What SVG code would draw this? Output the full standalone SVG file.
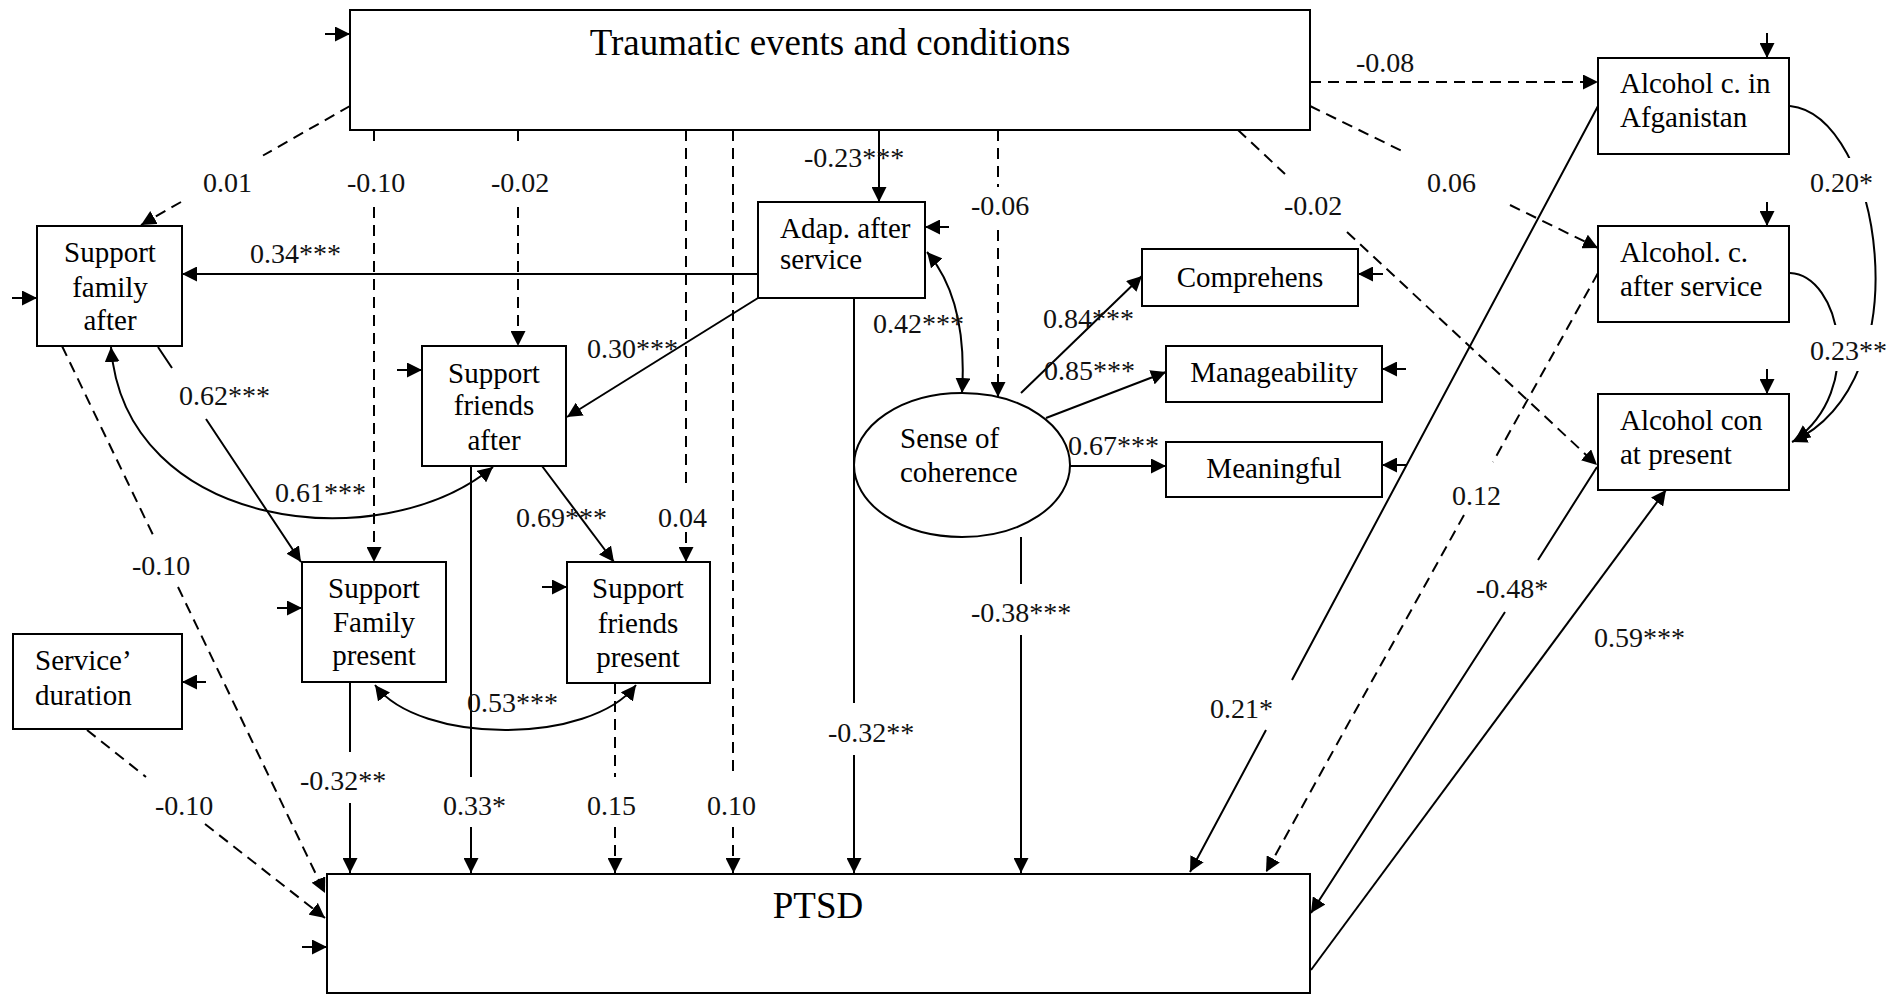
<svg xmlns="http://www.w3.org/2000/svg" width="1904" height="995" viewBox="0 0 1904 995">
<defs>
<style>
.box{fill:#fff;stroke:#000;stroke-width:2}
.c{fill:none;stroke:#000;stroke-width:2}
.d{stroke-dasharray:11 7}
.a{marker-end:url(#ah)}
.b{marker-start:url(#ah);marker-end:url(#ah)}
text{font-family:"Liberation Serif","Times New Roman",serif;fill:#000}
.n{font-size:29px}
.t{font-size:37px}
.l{font-size:28px;fill:#111}
.mid{text-anchor:middle}
</style>
<marker id="ah" markerUnits="userSpaceOnUse" markerWidth="15" markerHeight="15" refX="15" refY="7.5" orient="auto-start-reverse">
<path d="M0,0 L15,7.5 L0,15 z" fill="#000"/>
</marker>
</defs>
<rect width="1904" height="995" fill="#fff"/>

<g id="connectors">
<!-- from Traumatic -->
<path class="c d a" d="M350,106 L263,155.5 M181,202 L141,225"/>
<path class="c d a" d="M374,130 V147 M374,207 V562"/>
<path class="c d a" d="M518,130 V147 M518,207 V346"/>
<path class="c d a" d="M686,130 V488 M686,532 V562"/>
<path class="c d a" d="M733,130 V777 M733,827 V873"/>
<path class="c a" d="M879,130 V202"/>
<path class="c d a" d="M998,130 V187 M998,230 V397"/>
<path class="c d a" d="M1238,130 L1285,174 M1347,232 L1597,465"/>
<path class="c d a" d="M1310,82 H1598"/>
<path class="c d a" d="M1310,106 L1402,151 M1510,205 L1598,248"/>
<!-- from Adap -->
<path class="c a" d="M758,274 H182"/>
<path class="c a" d="M758,298 L567,417"/>
<path class="c a" d="M854,298 V703 M854,755 V873"/>
<path class="c b" d="M927,252 Q968,300 962,393"/>
<!-- from Sense of coherence -->
<path class="c a" d="M1021,393 L1142,276"/>
<path class="c a" d="M1046,418 L1166,372"/>
<path class="c a" d="M1070,466 H1166"/>
<path class="c a" d="M1021,537 V584 M1021,635 V873"/>
<!-- support -->
<path class="c a" d="M158,347 L172,368 M206,419 L301,562"/>
<path class="c b" d="M111,347 C125,530 380,560 493,467"/>
<path class="c d a" d="M62,346 L154,537 M178,587 L325,893"/>
<path class="c d a" d="M87,730 L146,777 M205,824 L325,918"/>
<path class="c a" d="M350,682 V752 M350,803 V873"/>
<path class="c a" d="M471,466 V777 M471,827 V873"/>
<path class="c a" d="M542,466 L614,562"/>
<path class="c d a" d="M615,683 V777 M615,827 V873"/>
<path class="c b" d="M375,685 C420,745 590,745 636,685"/>
<!-- alcohol -->
<path class="c a" d="M1598,106 L1292,680 M1266,730 L1190,872"/>
<path class="c d a" d="M1598,273 L1493,462 M1464,515 L1266,872"/>
<path class="c a" d="M1597,467 L1538,560 M1505,612 L1311,913"/>
<path class="c a" d="M1311,970 L1666,490"/>
<path class="c a" d="M1790,106 C1880,115 1925,380 1792,442"/>
<path class="c a" d="M1790,273 C1840,275 1865,390 1795,440"/>
<rect x="1806" y="158" width="78" height="44" fill="#fff"/>
<rect x="1806" y="325" width="88" height="46" fill="#fff"/>
<!-- residual arrows -->
<path class="c a" d="M325,34 H350"/>
<path class="c a" d="M12,298 H37"/>
<path class="c a" d="M397,370 H422"/>
<path class="c a" d="M277,608 H302"/>
<path class="c a" d="M542,587 H567"/>
<path class="c a" d="M206,682 H182"/>
<path class="c a" d="M949,227 H925"/>
<path class="c a" d="M1383,274 H1358"/>
<path class="c a" d="M1406,369 H1382"/>
<path class="c a" d="M1406,465 H1382"/>
<path class="c a" d="M1767,33 V58"/>
<path class="c a" d="M1767,202 V226"/>
<path class="c a" d="M1767,369 V394"/>
<path class="c a" d="M302,947 H327"/>
</g>

<g id="traumatic">
<rect class="box" x="350" y="10" width="960" height="120"/>
<text class="t mid" x="830" y="55">Traumatic events and conditions</text>
</g>
<g id="support-family-after">
<rect class="box" x="37" y="226" width="145" height="120"/>
<text class="n mid" x="110" y="262">Support</text>
<text class="n mid" x="110" y="297">family</text>
<text class="n mid" x="110" y="330">after</text>
</g>
<g id="adap-after-service">
<rect class="box" x="758" y="202" width="167" height="96"/>
<text class="n" x="780" y="238">Adap. after</text>
<text class="n" x="780" y="269">service</text>
</g>
<g id="support-friends-after">
<rect class="box" x="422" y="346" width="144" height="120"/>
<text class="n mid" x="494" y="383">Support</text>
<text class="n mid" x="494" y="415">friends</text>
<text class="n mid" x="494" y="450">after</text>
</g>
<g id="support-family-present">
<rect class="box" x="302" y="562" width="144" height="120"/>
<text class="n mid" x="374" y="598">Support</text>
<text class="n mid" x="374" y="632">Family</text>
<text class="n mid" x="374" y="665">present</text>
</g>
<g id="support-friends-present">
<rect class="box" x="567" y="562" width="143" height="121"/>
<text class="n mid" x="638" y="598">Support</text>
<text class="n mid" x="638" y="633">friends</text>
<text class="n mid" x="638" y="667">present</text>
</g>
<g id="service-duration">
<rect class="box" x="13" y="634" width="169" height="95"/>
<text class="n" x="35" y="670">Service’</text>
<text class="n" x="35" y="705">duration</text>
</g>
<g id="sense-of-coherence">
<ellipse class="box" cx="962" cy="465" rx="108" ry="72"/>
<text class="n" x="900" y="448">Sense of</text>
<text class="n" x="900" y="482">coherence</text>
</g>
<g id="comprehens">
<rect class="box" x="1142" y="249" width="216" height="57"/>
<text class="n mid" x="1250" y="287">Comprehens</text>
</g>
<g id="manageability">
<rect class="box" x="1166" y="346" width="216" height="56"/>
<text class="n mid" x="1274" y="382">Manageability</text>
</g>
<g id="meaningful">
<rect class="box" x="1166" y="442" width="216" height="55"/>
<text class="n mid" x="1274" y="478">Meaningful</text>
</g>
<g id="alcohol-afganistan">
<rect class="box" x="1598" y="58" width="191" height="96"/>
<text class="n" x="1620" y="93">Alcohol c. in</text>
<text class="n" x="1620" y="127">Afganistan</text>
</g>
<g id="alcohol-after-service">
<rect class="box" x="1598" y="226" width="191" height="96"/>
<text class="n" x="1620" y="262">Alcohol. c.</text>
<text class="n" x="1620" y="296">after service</text>
</g>
<g id="alcohol-present">
<rect class="box" x="1598" y="394" width="191" height="96"/>
<text class="n" x="1620" y="430">Alcohol con</text>
<text class="n" x="1620" y="464">at present</text>
</g>
<g id="ptsd">
<rect class="box" x="327" y="874" width="983" height="119"/>
<text class="t mid" x="818" y="918">PTSD</text>
</g>

<g id="labels">
<text class="l" x="203" y="192">0.01</text>
<text class="l" x="347" y="192">-0.10</text>
<text class="l" x="491" y="192">-0.02</text>
<text class="l" x="804" y="167">-0.23***</text>
<text class="l" x="971" y="215">-0.06</text>
<text class="l" x="1284" y="215">-0.02</text>
<text class="l" x="1356" y="72">-0.08</text>
<text class="l" x="1427" y="192">0.06</text>
<text class="l" x="1810" y="192">0.20*</text>
<text class="l" x="1810" y="360">0.23**</text>
<text class="l" x="250" y="263">0.34***</text>
<text class="l" x="873" y="333">0.42***</text>
<text class="l" x="1043" y="328">0.84***</text>
<text class="l" x="1044" y="380">0.85***</text>
<text class="l" x="1068" y="455">0.67***</text>
<text class="l" x="587" y="358">0.30***</text>
<text class="l" x="179" y="405">0.62***</text>
<text class="l" x="275" y="502">0.61***</text>
<text class="l" x="516" y="527">0.69***</text>
<text class="l" x="658" y="527">0.04</text>
<text class="l" x="132" y="575">-0.10</text>
<text class="l" x="467" y="712">0.53***</text>
<text class="l" x="300" y="790">-0.32**</text>
<text class="l" x="443" y="815">0.33*</text>
<text class="l" x="587" y="815">0.15</text>
<text class="l" x="707" y="815">0.10</text>
<text class="l" x="155" y="815">-0.10</text>
<text class="l" x="828" y="742">-0.32**</text>
<text class="l" x="971" y="622">-0.38***</text>
<text class="l" x="1452" y="505">0.12</text>
<text class="l" x="1210" y="718">0.21*</text>
<text class="l" x="1476" y="598">-0.48*</text>
<text class="l" x="1594" y="647">0.59***</text>
</g>
</svg>
